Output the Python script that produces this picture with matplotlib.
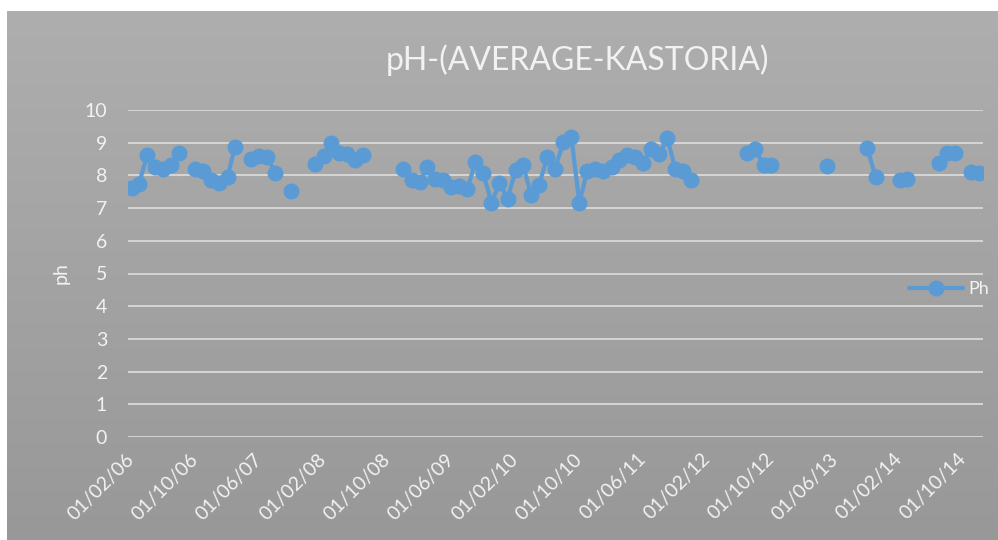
import numpy as np
import pandas as pd
import matplotlib
matplotlib.use("Agg")
import matplotlib.pyplot as plt
import matplotlib.dates as mdates

plt.rcParams['font.family'] = ['Lato', 'DejaVu Sans']

# Monthly average pH readings (months without a measurement are left out)
months = [
    "2006-02", "2006-03", "2006-04", "2006-05", "2006-06", "2006-07", "2006-08",
    "2006-10", "2006-11", "2006-12", "2007-01", "2007-02", "2007-03",
    "2007-05", "2007-06", "2007-07", "2007-08",
    "2007-10",
    "2008-01", "2008-02", "2008-03", "2008-04", "2008-05", "2008-06", "2008-07",
    "2008-12", "2009-01", "2009-02", "2009-03", "2009-04", "2009-05", "2009-06",
    "2009-07", "2009-08", "2009-09", "2009-10", "2009-11", "2009-12", "2010-01",
    "2010-02", "2010-03", "2010-04", "2010-05", "2010-06", "2010-07", "2010-08",
    "2010-09", "2010-10", "2010-11", "2010-12", "2011-01", "2011-02", "2011-03",
    "2011-04", "2011-05", "2011-06", "2011-07", "2011-08", "2011-09", "2011-10",
    "2011-11", "2011-12",
    "2012-07", "2012-08", "2012-09", "2012-10",
    "2013-05",
    "2013-10", "2013-11",
    "2014-02", "2014-03",
    "2014-07", "2014-08", "2014-09",
    "2014-11", "2014-12",
]
ph_values = [
    7.60, 7.75, 8.62, 8.26, 8.19, 8.31, 8.67,
    8.21, 8.13, 7.87, 7.77, 7.96, 8.88,
    8.49, 8.59, 8.57, 8.08,
    7.53,
    8.34, 8.59, 8.98, 8.70, 8.65, 8.47, 8.62,
    8.21, 7.85, 7.80, 8.26, 7.90, 7.85, 7.63,
    7.67, 7.58, 8.42, 8.06, 7.16, 7.77, 7.29,
    8.16, 8.31, 7.41, 7.71, 8.55, 8.21, 9.01,
    9.16, 7.17, 8.14, 8.21, 8.13, 8.26, 8.47,
    8.62, 8.55, 8.39, 8.80, 8.64, 9.13, 8.21,
    8.13, 7.87,
    8.67, 8.80, 8.31, 8.33,
    8.28,
    8.83, 7.96,
    7.85, 7.90,
    8.37, 8.69, 8.69,
    8.09, 8.06,
]
y_ticks = list(range(0, 11))
x_tick_start = "2006-02-01"
x_tick_step_months = 8

# Full monthly calendar so that missing months break the line
series = pd.Series(ph_values, index=pd.to_datetime(months))
full_index = pd.date_range("2006-02-01", "2014-12-01", freq="MS")
series = series.reindex(full_index)

W, H = 998, 540
fig = plt.figure(figsize=(W / 100, H / 100), dpi=100)
fig.patch.set_facecolor("white")

# Gray gradient chart area
bg = fig.add_axes([7 / W, 0, (W - 7) / W, (H - 11) / H], zorder=-10)
grad = np.linspace(0, 1, 256).reshape(-1, 1)
top_c = np.array([174, 174, 174]) / 255
bot_c = np.array([152, 152, 152]) / 255
img = top_c[None, None, :] * (1 - grad[:, :, None]) + bot_c[None, None, :] * grad[:, :, None]
bg.imshow(img, aspect="auto", extent=[0, 1, 0, 1], origin="upper")
bg.set_axis_off()

ax = fig.add_axes([128 / W, 103 / H, (983 - 128) / W, 327 / H])
ax.set_facecolor("none")

line_color = "#5B9BD5"
text_color = "#F2F2F2"

ax.plot(series.index, series.values, color=line_color, lw=3.0,
        marker="o", markersize=10.5, markerfacecolor=line_color,
        markeredgecolor=line_color, label="Ph", solid_capstyle="round",
        solid_joinstyle="round", zorder=3)

ax.set_ylim(0, 10)
ax.set_yticks(y_ticks)
x0 = mdates.date2num(pd.Timestamp("2006-02-01")) - 14
x1 = mdates.date2num(pd.Timestamp("2014-12-01")) + 14
ax.set_xlim(x0, x1)

tick_dates = pd.date_range(x_tick_start, "2014-12-01",
                           freq=pd.DateOffset(months=x_tick_step_months))
ax.set_xticks(tick_dates)
ax.xaxis.set_major_formatter(mdates.DateFormatter("%d/%m/%y"))

ax.grid(axis="y", color="#D9D9D9", lw=1.3)
ax.grid(axis="x", visible=False)
ax.set_axisbelow(True)
for s in ax.spines.values():
    s.set_visible(False)

ax.tick_params(axis="both", length=0, colors=text_color, labelsize=14)
ax.tick_params(axis="y", pad=15)
ax.tick_params(axis="x", pad=14)
for lbl in ax.get_xticklabels():
    lbl.set_rotation(45)
    lbl.set_ha("right")
    lbl.set_va("center")
    lbl.set_rotation_mode("anchor")

ax.set_ylabel("ph", color=text_color, fontsize=14, labelpad=11)

fig.text(578 / W, 1 - 60 / H, "pH-(AVERAGE-KASTORIA)", color=text_color,
         fontsize=23, ha="center", va="center")

leg = ax.legend(loc="center left", bbox_to_anchor=(900 / W, 1 - 289 / H),
                bbox_transform=fig.transFigure, frameon=False, fontsize=13,
                handlelength=3.0, handletextpad=0.3, borderpad=0)
for t in leg.get_texts():
    t.set_color(text_color)

fig.savefig("out.png", dpi=100)
